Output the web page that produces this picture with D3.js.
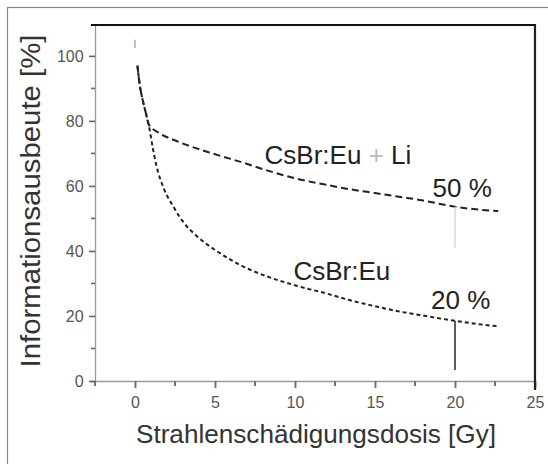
<!DOCTYPE html>
<html>
<head>
<meta charset="utf-8">
<script src="https://cdn.jsdelivr.net/npm/d3@7"></script>
<style>
  html, body { margin: 0; padding: 0; background: #fff; }
  svg { display: block; font-family: "Liberation Sans", Arial, sans-serif; }
</style>
</head>
<body>
<svg id="chart" width="548" height="464"></svg>
<script>
// ---- data ----
const doseLi   = [0.15, 0.3, 0.5, 0.7, 0.85, 1.5, 2.4, 3.4, 4.5, 5.5, 6.6, 8.1, 10.3, 12, 13.4, 15, 16.6, 17.8, 20, 21.3, 22.7];
const yieldLi  = [97, 91, 86, 82, 79, 76.3, 74.2, 72.3, 70.5, 69, 67.4, 65, 62, 60.3, 59, 57.8, 56.6, 55.7, 53.6, 52.8, 52.3];
const doseEu   = [0.15, 0.3, 0.5, 0.7, 0.85, 1.1, 1.35, 1.75, 2.4, 3.0, 3.9, 5.1, 6.6, 7.8, 10.1, 11.9, 13.4, 15, 16.6, 17.8, 20, 21.3, 22.7];
const yieldEu  = [97, 91, 86, 82, 79, 72, 66, 59.8, 53.6, 49, 44.4, 40, 35.6, 33, 29.3, 27, 24.9, 23, 21.3, 20.3, 18.5, 17.6, 16.8];
const xTicks   = [0, 5, 10, 15, 20, 25];
const yTicks   = [0, 20, 40, 60, 80, 100];
const xMinor   = [-2.5, 2.5, 7.5, 12.5, 17.5, 22.5];
const yMinor   = [10, 30, 50, 70, 90];
const markLines = [ {x: 20, y0: 53.6, y1: 41, color: "#dcdcdc"}, {x: 20, y0: 18.5, y1: 3.4, color: "#333"} ];
const labels = [
  {text: "CsBr:Eu + Li", x: 8.1, y: 66.8, parts: [["CsBr:Eu ", "#222"], ["+", "#bbb"], [" Li", "#222"]]},
  {text: "50 %", x: 18.6, y: 56.5},
  {text: "CsBr:Eu", x: 9.9, y: 31},
  {text: "20 %", x: 18.5, y: 22.2}
];

// ---- layout ----
const svg = d3.select("#chart");
const L = 95, R = 535, T = 25, B = 381;
const x = d3.scaleLinear().domain([-2.5, 25]).range([L, R]);
const y = d3.scaleLinear().domain([0, 109.5]).range([B, T]);

// outer frame
svg.append("rect").attr("x", 7.5).attr("y", 7.5).attr("width", 548).attr("height", 464)
  .attr("fill", "none").attr("stroke", "#888").attr("stroke-width", 1.2);

// axes (gray bottom / left)
const xAxis = d3.axisBottom(x).tickValues(xTicks).tickSize(7).tickFormat(d3.format("d"));
const gx = svg.append("g").attr("transform", `translate(0,${B})`).call(xAxis);
gx.select(".domain").attr("stroke", "#999").attr("stroke-width", 1.3).attr("d", `M${L-4},0.5H${R}`);
gx.selectAll(".tick line").attr("stroke", "#666").attr("stroke-width", 1.8);
gx.selectAll(".tick text").attr("fill", "#555").attr("font-size", 16).attr("dy", "1.05em");
gx.selectAll(".minor").data(xMinor).enter().append("line")
  .attr("x1", d => x(d)).attr("x2", d => x(d)).attr("y1", 0).attr("y2", 5)
  .attr("stroke", "#666").attr("stroke-width", 1.8);

const yAxis = d3.axisLeft(y).tickValues(yTicks).tickSize(6).tickFormat(d3.format("d"));
const gy = svg.append("g").attr("transform", `translate(${L},0)`).call(yAxis);
gy.select(".domain").attr("stroke", "#999").attr("stroke-width", 1.3).attr("d", `M0.5,${T}V${B}`);
gy.selectAll(".tick line").attr("stroke", "#666").attr("stroke-width", 1.6);
gy.selectAll(".tick text").attr("fill", "#555").attr("font-size", 16).attr("dx", "-0.15em");
gy.selectAll(".minor").data(yMinor).enter().append("line")
  .attr("x1", 0).attr("x2", -4).attr("y1", d => y(d)).attr("y2", d => y(d))
  .attr("stroke", "#666").attr("stroke-width", 1.6);

// black top & right frame
svg.append("line").attr("x1", L - 4).attr("x2", R + 1).attr("y1", T).attr("y2", T)
  .attr("stroke", "#111").attr("stroke-width", 2.2);
svg.append("line").attr("x1", R).attr("x2", R).attr("y1", T).attr("y2", B + 9)
  .attr("stroke", "#222").attr("stroke-width", 2.2);

// start mark
svg.append("line").attr("x1", x(0)).attr("x2", x(0)).attr("y1", y(105)).attr("y2", y(102.5))
  .attr("stroke", "#aaa").attr("stroke-width", 1.5);

// curves
const line = d3.line().x(d => x(d[0])).y(d => y(d[1])).curve(d3.curveMonotoneX);
svg.append("path").datum(d3.zip(doseLi, yieldLi)).attr("d", line)
  .attr("fill", "none").attr("stroke", "#222").attr("stroke-width", 2)
  .attr("stroke-dasharray", "7,4");
svg.append("path").datum(d3.zip(doseEu, yieldEu)).attr("d", line)
  .attr("fill", "none").attr("stroke", "#222").attr("stroke-width", 2)
  .attr("stroke-dasharray", "4,3");

// vertical marker lines
svg.selectAll(".mark").data(markLines).enter().append("line")
  .attr("x1", d => x(d.x)).attr("x2", d => x(d.x))
  .attr("y1", d => y(d.y0)).attr("y2", d => y(d.y1))
  .attr("stroke", d => d.color).attr("stroke-width", 1.6);

// annotations
labels.forEach(lb => {
  const t = svg.append("text").attr("x", x(lb.x)).attr("y", y(lb.y))
    .attr("font-size", 26).attr("fill", "#222");
  if (lb.parts) {
    lb.parts.forEach(p => t.append("tspan").text(p[0]).attr("fill", p[1]));
  } else t.text(lb.text);
});

// axis titles
svg.append("text").attr("x", 316).attr("y", 443).attr("text-anchor", "middle")
  .attr("font-size", 26).attr("fill", "#333").attr("textLength", 360)
  .attr("lengthAdjust", "spacingAndGlyphs").text("Strahlenschädigungsdosis [Gy]");
svg.append("text").attr("transform", "translate(40,201) rotate(-90)").attr("text-anchor", "middle")
  .attr("font-size", 27).attr("fill", "#333").attr("textLength", 333)
  .attr("lengthAdjust", "spacingAndGlyphs").text("Informationsausbeute [%]");
</script>
</body>
</html>
